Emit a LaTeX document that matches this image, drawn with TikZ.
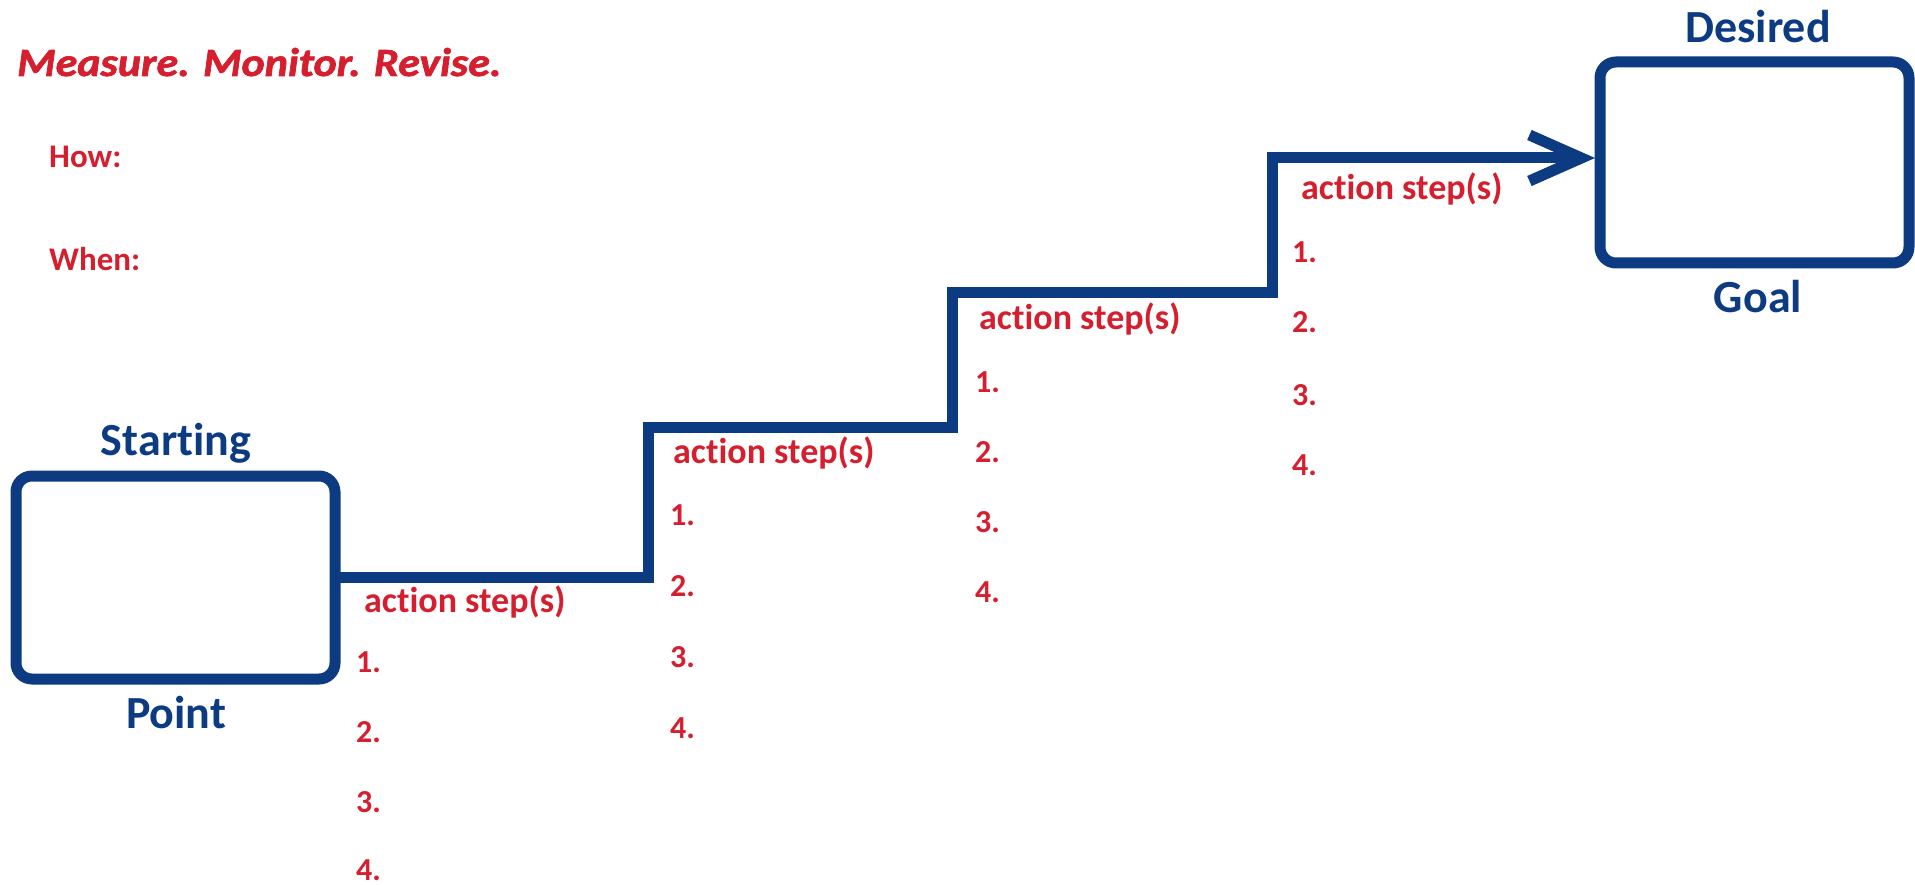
\documentclass[tikz,border=0pt]{standalone}
\usepackage{fontspec}
\setmainfont{Carlito}[Ligatures=NoCommon]
\newfontface\titlefont{Carlito Bold Italic}[FakeBold=1.6,Ligatures=NoCommon]
\usetikzlibrary{arrows.meta}
\definecolor{navy}{RGB}{12,59,130}
\definecolor{rred}{RGB}{213,31,46}
\begin{document}
\begin{tikzpicture}[x=1pt,y=-1pt,
  box/.style={draw=navy,line width=11pt,rounded corners=16pt,inner sep=0pt,outer sep=0pt},
  boxlabel/.style={text=navy,font=\fontsize{46}{50}\selectfont\bfseries,anchor=base,inner sep=0pt},
  redlabel/.style={text=rred,font=\fontsize{33}{36}\selectfont\bfseries,anchor=base west,inner sep=0pt},
  actlabel/.style={text=rred,font=\fontsize{36}{40}\selectfont\bfseries,anchor=base west,inner sep=0pt},
  numlabel/.style={text=rred,font=\fontsize{32}{36}\selectfont\bfseries,anchor=base west,inner sep=0pt},
  stepline/.style={draw=navy,line width=11pt,line join=miter}]
\useasboundingbox (0,0) rectangle (1915,885);
% title
\node[text=rred,font=\fontsize{40}{44}\selectfont\titlefont,anchor=base west,inner sep=0pt] (title) at (17,76) {\scalebox{1.1}[1]{Measure. Monitor. Revise.}};
\node[redlabel] (how) at (49,168) {How:};
\node[redlabel] (when) at (49,271) {When:};
% boxes
\node[box,minimum width=319pt,minimum height=203pt] (Start) at (175.5,577.5) {};
\node[box,minimum width=309pt,minimum height=201pt] (Goal) at (1754.5,162.5) {};
\node[boxlabel] (startT) at (176,455) {Starting};
\node[boxlabel] (startB) at (176,728) {Point};
\node[boxlabel] (goalT) at (1758,43) {Desired};
\node[boxlabel] (goalB) at (1758,313) {Goal};
% stair
\coordinate (c1) at (648,577.5);
\coordinate (c2) at (648,427);
\coordinate (c3) at (952,427);
\coordinate (c4) at (952,293);
\coordinate (c5) at (1272,293);
\coordinate (c6) at (1272,158);
\draw[stepline,-{Straight Barb[length=52pt,width=46pt]},shorten >=5pt] (Start.east) -- (c1) -- (c2) -- (c3) -- (c4) -- (c5) -- (c6) -- (c6 -| Goal.west);
% action step labels
\node[actlabel] (a1) at (364,612) {action step(s)};
\node[actlabel] (a2) at (673,463) {action step(s)};
\node[actlabel] (a3) at (979,330) {action step(s)};
\node[actlabel] (a4) at (1301,200) {action step(s)};
% numbers
\node[numlabel] (n11) at (356,672) {1.};
\node[numlabel] (n12) at (356,742) {2.};
\node[numlabel] (n13) at (356,812) {3.};
\node[numlabel] (n14) at (356,880) {4.};
\node[numlabel] (n21) at (670,525) {1.};
\node[numlabel] (n22) at (670,596) {2.};
\node[numlabel] (n23) at (670,667) {3.};
\node[numlabel] (n24) at (670,738) {4.};
\node[numlabel] (n31) at (975,392) {1.};
\node[numlabel] (n32) at (975,462) {2.};
\node[numlabel] (n33) at (975,532) {3.};
\node[numlabel] (n34) at (975,602) {4.};
\node[numlabel] (n41) at (1292,263) {1.};
\node[numlabel] (n42) at (1292,333) {2.};
\node[numlabel] (n43) at (1292,405) {3.};
\node[numlabel] (n44) at (1292,475) {4.};
\end{tikzpicture}
\end{document}
